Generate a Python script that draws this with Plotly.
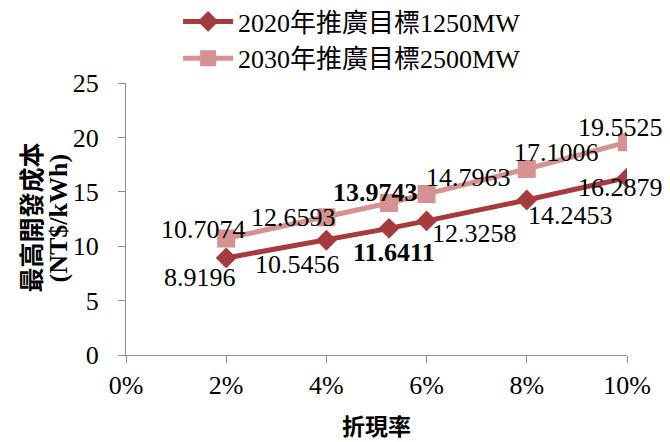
import plotly.graph_objects as go

# Discount rate (%) and maximum development cost (NT$/kWh)
discount_rate = [2, 4, 5.25, 6, 8, 10]
cost_2020 = [8.9196, 10.5456, 11.6411, 12.3258, 14.2453, 16.2879]
cost_2030 = [10.7074, 12.6593, 13.9743, 14.7963, 17.1006, 19.5525]
name_2020 = "2020年推廣目標1250MW"
name_2030 = "2030年推廣目標2500MW"
x_ticks = [0, 2, 4, 6, 8, 10]
x_tick_labels = ["0%", "2%", "4%", "6%", "8%", "10%"]
y_ticks = [0, 5, 10, 15, 20, 25]

# Label offsets in pixels (x, y) relative to each point
shift_2020 = [(-26, -20), (-29, -24), (5, -24), (48, -13), (44, -15), (-7, -10)]
shift_2030 = [(-23, 9), (-33, 0), (-14, 10), (42, 17), (30, 16), (-7, 15)]
bold_index = 2

DARK = "#A53B3C"
LIGHT = "#D69291"
SERIF = "Liberation Serif, Times New Roman, Noto Sans CJK TC, serif"
CJK = "Noto Sans CJK TC, sans-serif"
FS = 26

fig = go.Figure()
fig.add_trace(go.Scatter(
    x=discount_rate, y=cost_2020, name=name_2020, mode="lines+markers",
    line=dict(color=DARK, width=5),
    marker=dict(symbol="diamond", size=16, color=DARK),
))
fig.add_trace(go.Scatter(
    x=discount_rate, y=cost_2030, name=name_2030, mode="lines+markers",
    line=dict(color=LIGHT, width=5),
    marker=dict(symbol="square", size=18, color=LIGHT),
))

for xs, ys, shifts in ((discount_rate, cost_2020, shift_2020),
                       (discount_rate, cost_2030, shift_2030)):
    for i, (xv, yv, (dx, dy)) in enumerate(zip(xs, ys, shifts)):
        txt = f"{yv:.4f}"
        if i == bold_index:
            txt = f"<b>{txt}</b>"
        fig.add_annotation(x=xv, y=yv, text=txt, showarrow=False,
                           xshift=dx, yshift=dy,
                           font=dict(family=SERIF, size=FS, color="#000"))

# Y axis title (two rotated lines)
fig.add_annotation(xref="paper", yref="paper", x=-0.192, y=0.505,
                   xanchor="center", yanchor="middle",
                   text="<b>最高開發成本</b>", textangle=-90, showarrow=False,
                   font=dict(family=CJK, size=25, color="#000"))
fig.add_annotation(xref="paper", yref="paper", x=-0.134, y=0.505,
                   xanchor="center", yanchor="middle",
                   text="<b>(NT$/kWh)</b>", textangle=-90, showarrow=False,
                   font=dict(family=SERIF, size=FS, color="#000"))
# X axis title
fig.add_annotation(xref="paper", yref="paper", x=0.5, y=-0.258,
                   yanchor="middle",
                   text="<b>折現率</b>", showarrow=False,
                   font=dict(family=CJK, size=23, color="#000"))

fig.update_layout(
    width=670, height=442,
    margin=dict(l=126, r=43, t=83, b=87, autoexpand=False),
    paper_bgcolor="white", plot_bgcolor="white",
    showlegend=True,
    legend=dict(x=0.104, y=1.3125, xanchor="left", yanchor="top",
                itemwidth=50,
                font=dict(family=SERIF, size=FS, color="#000"),
                bgcolor="rgba(0,0,0,0)"),
    xaxis=dict(range=[0, 10], tickvals=x_ticks, ticktext=x_tick_labels,
               showgrid=False, zeroline=False, showline=True,
               linecolor="#8C8C8C", linewidth=1, ticks="outside",
               ticklen=7, tickcolor="#8C8C8C", automargin=False,
               tickfont=dict(family=SERIF, size=FS, color="#000")),
    yaxis=dict(range=[0, 25], tickvals=y_ticks,
               showgrid=False, zeroline=False, showline=True,
               linecolor="#8C8C8C", linewidth=1, ticks="outside",
               ticklen=7, tickcolor="#8C8C8C", ticklabelstandoff=14,
               automargin=False,
               tickfont=dict(family=SERIF, size=FS, color="#000")),
)

fig.write_html("out.html")
